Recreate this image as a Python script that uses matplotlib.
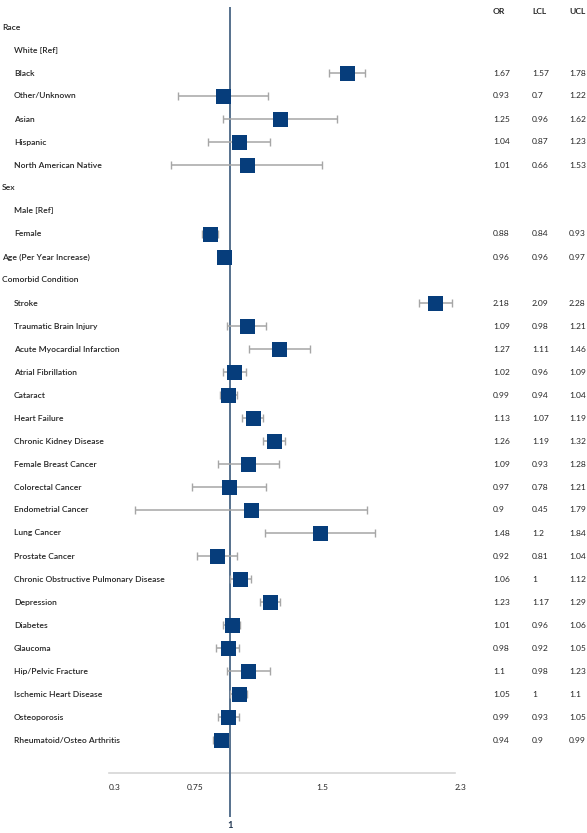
import matplotlib
matplotlib.use("Agg")
import matplotlib.pyplot as plt
import numpy as np

# ---- data ----
labels = ["Race", "White [Ref]", "Black", "Other/Unknown", "Asian", "Hispanic",
          "North American Native", "Sex", "Male [Ref]", "Female",
          "Age (Per Year Increase)", "Comorbid Condition", "Stroke",
          "Traumatic Brain Injury", "Acute Myocardial Infarction",
          "Atrial Fibrillation", "Cataract", "Heart Failure",
          "Chronic Kidney Disease", "Female Breast Cancer", "Colorectal Cancer",
          "Endometrial Cancer", "Lung Cancer", "Prostate Cancer",
          "Chronic Obstructive Pulmonary Disease", "Depression", "Diabetes",
          "Glaucoma", "Hip/Pelvic Fracture", "Ischemic Heart Disease",
          "Osteoporosis", "Rheumatoid/Osteo Arthritis"]
is_group = [True, False, False, False, False, False, False, True, False, False,
            True, True] + [False] * 20
OR = [None, None, 1.67, 0.93, 1.25, 1.04, 1.01, None, None, 0.88, 0.96, None,
      2.18, 1.09, 1.27, 1.02, 0.99, 1.13, 1.26, 1.09, 0.97, 0.9, 1.48, 0.92,
      1.06, 1.23, 1.01, 0.98, 1.1, 1.05, 0.99, 0.94]
LCL = [None, None, 1.57, 0.7, 0.96, 0.87, 0.66, None, None, 0.84, 0.96, None,
       2.09, 0.98, 1.11, 0.96, 0.94, 1.07, 1.19, 0.93, 0.78, 0.45, 1.2, 0.81,
       1, 1.17, 0.96, 0.92, 0.98, 1, 0.93, 0.9]
UCL = [None, None, 1.78, 1.22, 1.62, 1.23, 1.53, None, None, 0.93, 0.97, None,
       2.28, 1.21, 1.46, 1.09, 1.04, 1.19, 1.32, 1.28, 1.21, 1.79, 1.84, 1.04,
       1.12, 1.29, 1.06, 1.05, 1.23, 1.1, 1.05, 0.99]
xticks = [0.3, 0.75, 1.5, 2.3]
ref_value = 1

# ---- figure ----
W, H, DPI = 587, 833, 100
fig = plt.figure(figsize=(W / DPI, H / DPI), dpi=DPI)
ax = fig.add_axes([0, 0, 1, 1])
ppu = 173.0
px0 = 109.0
x_lo = 0.3 - px0 / ppu
x_hi = 0.3 + (W - px0) / ppu
ax.set_xlim(x_lo, x_hi)
row0_px, row_h = 27.0, 23.0
ax.set_ylim((H - row0_px) / row_h, -row0_px / row_h)
ax.axis("off")

def px2row(p):
    return (p - row0_px) / row_h

def px2x(p):
    return x_lo + p / ppu

font = ["Lato", "DejaVu Sans"]
txt_col = "#262626"
fs = 6.1
fw = "semibold"
n = len(labels)
rows = np.arange(n)
cols_px = [493, 532, 569]

# reference line
ax.plot([ref_value, ref_value], [px2row(7), px2row(817)], color="#56718d",
        lw=1.4, zorder=2, solid_capstyle="butt")

# axis line & ticks
ax.plot([xticks[0], xticks[-1]], [px2row(773), px2row(773)], color="#d6d6d6",
        lw=1.2, zorder=1)
for t in xticks:
    ax.text(t, px2row(787), f"{t:g}", fontsize=fs, color=txt_col, ha="left",
            va="center", family=font)
ax.text(ref_value, px2row(825), f"{ref_value:g}", fontsize=fs + 0.6,
        color="#1f3550", ha="center", va="center", family=font,
        fontweight="bold")

# header
for xp, h in zip(cols_px, ["OR", "LCL", "UCL"]):
    ax.text(px2x(xp), px2row(12), h, fontsize=fs, color=txt_col, ha="left",
            va="center", family=font, fontweight="bold")

for i in range(n):
    xp = 2 if is_group[i] else 14
    ax.text(px2x(xp), rows[i], labels[i], fontsize=fs, color=txt_col,
            ha="left", va="center", family=font, fontweight=fw)
    if OR[i] is None:
        continue
    lo, hi = LCL[i], UCL[i]
    mid = (lo + hi) / 2.0
    ax.errorbar([mid], [rows[i]], xerr=[[mid - lo], [hi - mid]], fmt="none",
                ecolor="#a6a6a6", elinewidth=1.1, capsize=3.2, capthick=1.0,
                zorder=3)
    ax.plot([mid], [rows[i]], marker="s", markersize=10.8, color="#063d7b",
            markeredgewidth=0, linestyle="none", zorder=4)
    for xp2, v in zip(cols_px, [OR[i], LCL[i], UCL[i]]):
        ax.text(px2x(xp2), rows[i], f"{v:g}", fontsize=fs, color=txt_col,
                ha="left", va="center", family=font)

fig.savefig("out.png", dpi=DPI, facecolor="white")
